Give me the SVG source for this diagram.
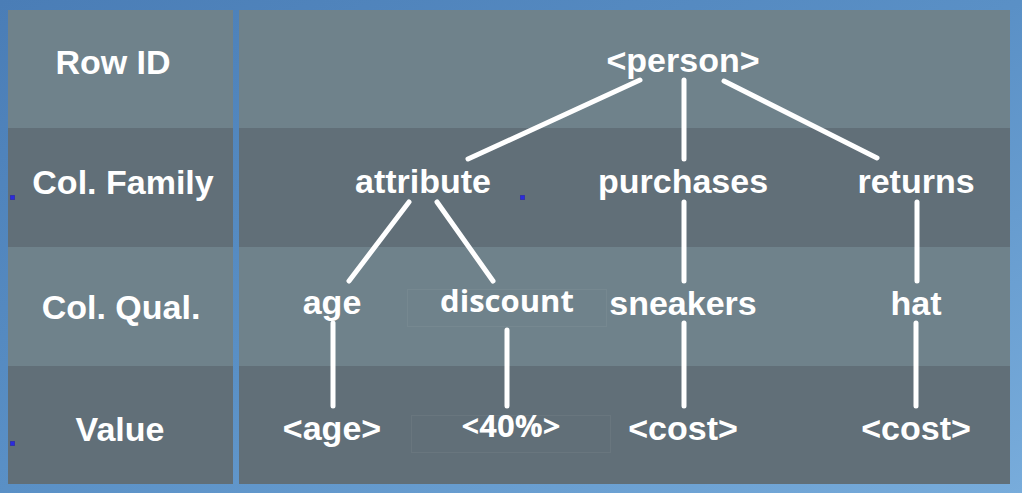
<svg xmlns="http://www.w3.org/2000/svg" width="1022" height="493" viewBox="0 0 1022 493">
  <defs>
    <linearGradient id="bg" x1="0" y1="0" x2="1" y2="1">
      <stop offset="0" stop-color="#4a7db6"/>
      <stop offset="0.5" stop-color="#5a90c6"/>
      <stop offset="1" stop-color="#78acdb"/>
    </linearGradient>
  </defs>
  <style>
    .light { fill: #6f828b; }
    .dark { fill: #616f78; }
    .lbl { font-family: "Liberation Sans", Arial, sans-serif; font-weight: bold; font-size: 34px; fill: #ffffff; text-anchor: middle; }
    .alt { font-family: "Open Sans", "DejaVu Sans", sans-serif; font-weight: 700; font-size: 31px; fill: #ffffff; text-anchor: middle; }
    .edge { stroke: #ffffff; stroke-width: 5; stroke-linecap: round; fill: none; }
    .faint { fill: none; stroke: #ffffff; stroke-opacity: 0.05; stroke-width: 1; }
    .mark { fill: #2a2ae0; stroke: #3434a8; stroke-width: 1; }
  </style>
  <rect x="0" y="0" width="1022" height="493" fill="url(#bg)"/>

  <g id="bands">
    <rect class="light" x="8" y="10" width="225" height="118"/>
    <rect class="dark" x="8" y="128" width="225" height="119"/>
    <rect class="light" x="8" y="247" width="225" height="119"/>
    <rect class="dark" x="8" y="366" width="225" height="118"/>
    <rect class="light" x="239" y="10" width="771" height="118"/>
    <rect class="dark" x="239" y="128" width="771" height="119"/>
    <rect class="light" x="239" y="247" width="771" height="119"/>
    <rect class="dark" x="239" y="366" width="771" height="118"/>
  </g>

  <g id="row-labels">
    <text class="lbl" x="113" y="74">Row ID</text>
    <text class="lbl" x="123" y="194">Col. Family</text>
    <text class="lbl" x="121" y="319">Col. Qual.</text>
    <text class="lbl" x="120" y="441">Value</text>
  </g>

  <g id="connectors">
    <line class="edge" x1="640" y1="80" x2="468" y2="159"/>
    <line class="edge" x1="684" y1="80" x2="684" y2="159"/>
    <line class="edge" x1="724" y1="81" x2="877" y2="158"/>
    <line class="edge" x1="409" y1="202" x2="349" y2="281"/>
    <line class="edge" x1="437" y1="202" x2="493" y2="281"/>
    <line class="edge" x1="684" y1="202" x2="684" y2="281"/>
    <line class="edge" x1="917" y1="202" x2="917" y2="281"/>
    <line class="edge" x1="333" y1="323" x2="333" y2="406"/>
    <line class="edge" x1="507" y1="330" x2="507" y2="406"/>
    <line class="edge" x1="684" y1="323" x2="684" y2="406"/>
    <line class="edge" x1="916" y1="323" x2="916" y2="406"/>
  </g>

  <g id="person"><text class="lbl" x="683" y="72">&lt;person&gt;</text></g>
  <g id="attribute"><text class="lbl" x="423" y="193">attribute</text></g>
  <g id="purchases"><text class="lbl" x="683" y="193">purchases</text></g>
  <g id="returns"><text class="lbl" x="916" y="193">returns</text></g>
  <g id="age"><text class="lbl" x="332" y="314">age</text></g>
  <g id="discount">
    <rect class="faint" x="407.5" y="289.5" width="199" height="37"/>
    <text class="alt" x="507" y="312">discount</text>
  </g>
  <g id="sneakers"><text class="lbl" x="683" y="315">sneakers</text></g>
  <g id="hat"><text class="lbl" x="916" y="315">hat</text></g>
  <g id="age-value"><text class="lbl" x="332" y="440">&lt;age&gt;</text></g>
  <g id="discount-value">
    <rect class="faint" x="411.5" y="415.5" width="199" height="37"/>
    <text class="alt" x="511" y="437">&lt;40%&gt;</text>
  </g>
  <g id="sneakers-value"><text class="lbl" x="683" y="440">&lt;cost&gt;</text></g>
  <g id="hat-value"><text class="lbl" x="916" y="440">&lt;cost&gt;</text></g>

  <g id="marks">
    <rect class="mark" x="10.5" y="195.5" width="4" height="4"/>
    <rect class="mark" x="520.5" y="195.5" width="4" height="4"/>
    <rect class="mark" x="10.5" y="441.5" width="4" height="4"/>
  </g>
</svg>
